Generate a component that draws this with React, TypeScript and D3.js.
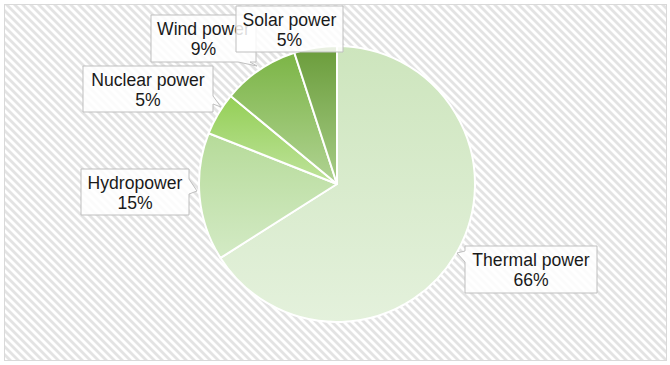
import React from "react";
import * as d3 from "d3";

// Electricity generation mix, share by source (%)
const sources = ["Thermal power", "Hydropower", "Nuclear power", "Wind power", "Solar power"];
const shares = [66, 15, 5, 9, 5];

// Slice gradient stops (top colour, bottom colour)
const topColors = ["#cde5bd", "#b6db99", "#94cf56", "#7cb546", "#6a9c3a"];
const bottomColors = ["#e4f1dc", "#d3eac5", "#bfe39c", "#b0d293", "#a6cc86"];

// Callout boxes: rectangle plus pointer triangle (base points on the box edge, tip near the slice)
type Callout = { x: number; y: number; w: number; h: number; ptr: [number, number][] | null };
const callouts: Callout[] = [
  { x: 465, y: 246, w: 132, h: 47, ptr: [[465, 251], [457, 253], [465, 262]] },
  { x: 81, y: 169, w: 108, h: 46, ptr: [[189, 179], [197, 191], [189, 194]] },
  { x: 83, y: 66, w: 130, h: 46, ptr: [[213, 96], [221, 107], [213, 104]] },
  { x: 151, y: 15, w: 105, h: 47, ptr: [[238, 62], [257, 66], [250, 62]] },
  { x: 236, y: 6, w: 107, h: 46, ptr: null },
];

const W = 670;
const H = 365;
const cx = 337;
const cy = 184;
const R = 138;

function calloutPath(c: Callout): string {
  const { x, y, w, h, ptr } = c;
  const corners: [number, number][] = [[x, y], [x + w, y], [x + w, y + h], [x, y + h]];
  if (!ptr) return d3.line()(corners.concat([[x, y]]))! + "Z";
  // insert pointer into the matching edge
  const [a, tip, b] = ptr;
  let pts: [number, number][];
  if (a[0] === x && b[0] === x) {
    // left edge, going upward from bottom-left to top-left
    pts = [[x, y], [x + w, y], [x + w, y + h], [x, y + h], b, tip, a];
  } else if (a[0] === x + w && b[0] === x + w) {
    pts = [[x, y], [x + w, y], a, tip, b, [x + w, y + h], [x, y + h]];
  } else {
    // bottom edge, traversed right to left
    const hi = a[0] > b[0] ? a : b;
    const lo = a[0] > b[0] ? b : a;
    pts = [[x, y], [x + w, y], [x + w, y + h], hi, tip, lo, [x, y + h]];
  }
  return d3.line()(pts)! + "Z";
}

export default function App() {
  const pie = d3
    .pie<number>()
    .sort(null)
    .value((d) => d)
    .startAngle(0)
    .endAngle(2 * Math.PI);
  const arcs = pie(shares);
  const arc = d3.arc<d3.PieArcDatum<number>>().innerRadius(0).outerRadius(R);

  return (
    <svg
      width={W}
      height={H}
      style={{ position: "absolute", left: 0, top: 0, display: "block" }}
      fontFamily="'Liberation Sans', Arial, sans-serif"
    >
      <defs>
        <pattern id="stripes" patternUnits="userSpaceOnUse" width={8} height={8}>
          <rect width={8} height={8} fill="#ffffff" />
          <path d="M0,0 L4,0 L8,4 L8,8 Z M0,4 L4,8 L0,8 Z" fill="#e3e3e3" />
        </pattern>
        {shares.map((_, i) => (
          <linearGradient key={i} id={`grad${i}`} x1="0" y1="0" x2="0" y2="1">
            <stop offset="0" stopColor={topColors[i]} />
            <stop offset="1" stopColor={bottomColors[i]} />
          </linearGradient>
        ))}
      </defs>
      <rect x={4.5} y={4.5} width={662} height={356} fill="url(#stripes)" stroke="#d9d9d9" strokeWidth={1} />
      <g transform={`translate(${cx},${cy})`}>
        {arcs.map((a, i) => (
          <path key={i} d={arc(a)!} fill={`url(#grad${i})`} stroke="#ffffff" strokeWidth={2} strokeLinejoin="round" />
        ))}
      </g>
      {[3, 4, 2, 1, 0].map((i) => {
        const c = callouts[i];
        const mid = c.x + c.w / 2;
        return (
          <g key={i}>
            <path d={calloutPath(c)} fill="#ffffff" fillOpacity={0.85} stroke="#bfbfbf" strokeWidth={1} />
            <text x={mid} y={c.y + 20} textAnchor="middle" fontSize={17.6} fill="#1a1a1a">
              {sources[i]}
            </text>
            <text x={mid} y={c.y + 39.6} textAnchor="middle" fontSize={17.6} fill="#1a1a1a">
              {`${shares[i]}%`}
            </text>
          </g>
        );
      })}
    </svg>
  );
}
